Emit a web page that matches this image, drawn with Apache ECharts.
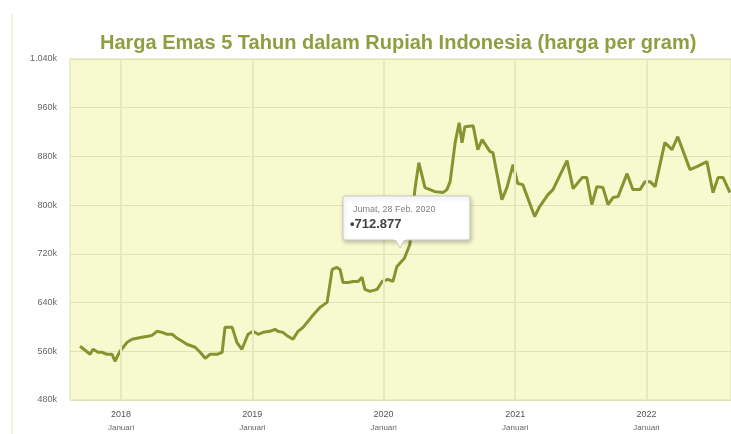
<!DOCTYPE html>
<html>
<head>
<meta charset="utf-8">
<script src="https://cdn.jsdelivr.net/npm/echarts@6/dist/echarts.min.js"></script>
<style>
html,body{margin:0;padding:0;background:#fff;}
#chart{width:731px;height:434px;position:relative;}
</style>
</head>
<body>
<div id="chart"></div>
<script>
const titleText = 'Harga Emas 5 Tahun dalam Rupiah Indonesia (harga per gram)';

const dates = [
'2017-09-09','2017-10-07','2017-10-15','2017-10-29','2017-11-09','2017-11-23','2017-12-07','2017-12-15','2017-12-29',
'2018-01-18','2018-02-01','2018-02-14','2018-02-28','2018-03-17','2018-03-28','2018-04-11','2018-04-25','2018-05-09',
'2018-05-23','2018-06-06','2018-06-20','2018-07-03','2018-07-26','2018-08-09','2018-08-23','2018-09-05','2018-09-25',
'2018-10-09','2018-10-17','2018-11-06','2018-11-19','2018-12-03','2018-12-20',
'2019-01-03','2019-01-17','2019-01-31','2019-02-19','2019-03-05','2019-03-13','2019-03-27','2019-04-10','2019-04-24',
'2019-05-08','2019-05-22','2019-06-16','2019-07-08','2019-07-28','2019-08-11','2019-08-24','2019-09-02','2019-09-10',
'2019-09-24','2019-10-08','2019-10-22','2019-11-02','2019-11-10','2019-11-24','2019-12-14','2019-12-28',
'2020-01-13','2020-01-27','2020-02-07','2020-02-28','2020-03-14','2020-03-28','2020-04-08','2020-04-25','2020-05-09',
'2020-05-23','2020-06-14','2020-06-25','2020-07-04','2020-07-18','2020-07-29','2020-08-06','2020-08-14','2020-09-06',
'2020-09-19','2020-10-01','2020-10-23','2020-10-31','2020-11-25','2020-12-09','2020-12-26',
'2021-01-08','2021-01-22','2021-02-24','2021-03-10','2021-04-02','2021-04-16','2021-05-25','2021-06-11','2021-07-06',
'2021-07-19','2021-08-02','2021-08-16','2021-09-02','2021-09-16','2021-09-30','2021-10-14','2021-11-08','2021-11-24',
'2021-12-14','2021-12-28',
'2022-01-11','2022-01-25','2022-02-21','2022-03-13','2022-03-29','2022-05-02','2022-05-21','2022-06-18','2022-07-05',
'2022-07-19','2022-08-02','2022-08-21'
];

const prices = [
568200,555100,563300,558400,558400,555100,555100,543600,560000,
574800,579700,581300,582900,584600,586200,592800,591100,587900,
587900,581300,576400,571500,566600,558400,548500,555100,555100,
558400,599300,599300,574800,563300,587900,
592800,587900,591100,592800,596100,592800,591100,584600,579700,
592800,599300,617400,632100,640300,694400,697700,694400,673100,
673100,674700,674700,681300,661600,658300,661600,674700,
678000,674700,699300,712877,735400,825500,869800,828800,825500,
822200,820600,825500,838600,902600,935300,902600,928800,930400,
891100,907500,887800,886200,809100,828800,866500,
835400,833700,781300,797700,817300,825500,873000,827200,845200,
845200,801000,830400,828800,801000,812400,814000,851700,825500,
825500,838600,
838600,830400,902600,891100,912400,858300,863200,871400,820600,
845200,845200,820600
];

const yearTicks = ['2018-01-01','2019-01-01','2020-01-01','2021-01-01','2022-01-01'];
const xRange = ['2017-08-12','2022-08-24'];
const monthLabel = 'Januari';
const highlightIndex = 62;

const dayNames = ['Minggu','Senin','Selasa','Rabu','Kamis','Jumat','Sabtu'];
const monthShort = ['Jan.','Feb.','Mar.','Apr.','Mei','Jun.','Jul.','Agu.','Sep.','Okt.','Nov.','Des.'];

function ts(d){ return Date.UTC(+d.slice(0,4), +d.slice(5,7)-1, +d.slice(8,10)); }
function dots(n){ return String(n).replace(/\B(?=(\d{3})+(?!\d))/g,'.'); }

const seriesData = dates.map((d,i)=>[ts(d), prices[i]]);
const tickTs = yearTicks.map(ts);
const FONT = 'Liberation Sans, Arial, sans-serif';

const chart = echarts.init(document.getElementById('chart'), null, {renderer:'canvas'});
chart.setOption({
  animation:false,
  backgroundColor:'#ffffff',
  title:{
    text:titleText,
    left:95, top:28,
    textStyle:{color:'#8d9f3f', fontSize:20, fontWeight:'bold', fontFamily:FONT}
  },
  grid:{left:70, right:0, top:59, bottom:34, show:true, backgroundColor:'#f7f9cf', borderColor:'#dcdfb4', borderWidth:1},
  xAxis:{
    type:'value',
    min:ts(xRange[0]), max:ts(xRange[1]),
    axisLine:{show:false},
    axisTick:{show:false},
    splitLine:{show:false},
    axisLabel:{
      customValues: tickTs,
      formatter:function(v){ const y=new Date(v).getUTCFullYear(); return '{y|'+y+'}\n{m|'+monthLabel+'}'; },
      margin:8,
      rich:{
        y:{fontSize:9, color:'#555', lineHeight:14, fontFamily:FONT},
        m:{fontSize:8, color:'#666', lineHeight:12, fontFamily:FONT}
      }
    }
  },
  yAxis:{
    type:'value', min:480000, max:1040000, interval:80000,
    axisLine:{show:false}, axisTick:{show:false},
    splitLine:{lineStyle:{color:'#dfe2b8', width:1}},
    axisLabel:{
      fontSize:9, color:'#666', margin:13, fontFamily:FONT,
      formatter:function(v){ return dots(v/1000)+'k'; }
    }
  },
  series:[{
    type:'line',
    data:seriesData,
    showSymbol:false,
    lineStyle:{color:'#84942f', width:3},
    itemStyle:{color:'#84942f'},
    markLine:{
      silent:true, symbol:['none','none'], label:{show:false},
      lineStyle:{color:'#e6e8c2', type:'solid', width:2},
      data: tickTs.map(t=>({xAxis:t}))
    },
    z:3
  }]
});

// tooltip-like callout anchored to the highlighted data point via the chart's own scales
const hp = seriesData[highlightIndex];
const pt = chart.convertToPixel({seriesIndex:0}, hp);
const dt = new Date(hp[0]);
const line1 = dayNames[dt.getUTCDay()]+', '+dt.getUTCDate()+' '+monthShort[dt.getUTCMonth()]+' '+dt.getUTCFullYear();
const line2 = '\u2022' + dots(hp[1]);
const bw = 127, bh = 44;
const bx = Math.round(pt[0] - 61), by = Math.round(pt[1] - 62);
const Z = 100;
chart.setOption({
  graphic:[
    {type:'rect', left:11, top:14, shape:{width:2, height:420}, style:{fill:'#f1f1df'}, silent:true},
    {type:'group', x:bx, y:by, silent:true, children:[
      {type:'rect', z:Z, shape:{x:0, y:0, width:bw, height:bh, r:2},
       style:{fill:'#ffffff', stroke:'#c8c8bf', lineWidth:1, shadowBlur:4, shadowOffsetX:1, shadowOffsetY:2, shadowColor:'rgba(0,0,0,0.22)'}},
      {type:'polygon', z:Z+1, shape:{points:[[52,bh-1],[62,bh-1],[57,bh+8]]},
       style:{fill:'#ffffff', stroke:'#c8c8bf', lineWidth:1}},
      {type:'rect', z:Z+2, shape:{x:51, y:bh-2, width:12, height:2}, style:{fill:'#ffffff'}},
      {type:'text', z:Z+3, x:10, y:9, style:{text:line1, fill:'#808080', font:'9px '+FONT}},
      {type:'text', z:Z+3, x:7, y:22, style:{text:line2, fill:'#444444', font:'bold 13px '+FONT}}
    ]}
  ]
});
</script>
</body>
</html>
